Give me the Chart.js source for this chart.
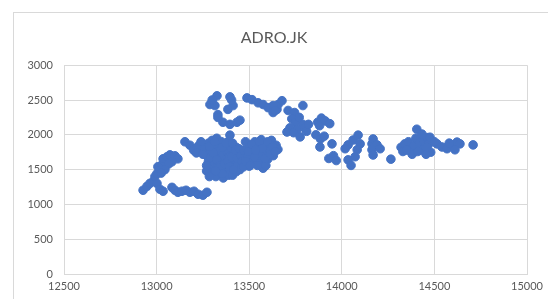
<!DOCTYPE html>
<html>
<head>
<meta charset="utf-8">
<script src="https://cdn.jsdelivr.net/npm/chart.js@4"></script>
<style>
  html, body { margin: 0; padding: 0; background: #fff; }
  #wrap { position: relative; width: 548px; height: 299px; overflow: hidden; }
  #frame { position: absolute; left: 13px; top: 12px; width: 560px; height: 320px; border: 1px solid #d9d9d9; box-sizing: border-box; }
  canvas { position: absolute; left: 0; top: 0; }
</style>
</head>
<body>
<div id="wrap">
  <div id="frame"></div>
  <canvas id="scatterChart" width="548" height="299"></canvas>
</div>
<script>
// --- DATA ---
const chartTitle = 'ADRO.JK';
const xTicks = [12500, 13000, 13500, 14000, 14500, 15000];
const yTicks = [0, 500, 1000, 1500, 2000, 2500, 3000];

// price points (x) and the matching values (y)
const xValues = [
    // lower-left diagonal
    12927, 12948, 12964, 12981, 13002, 13018, 13035, 12991, 13002, 13018, 13007, 13029, 13045, 13035, 13056, 13072, 13099, 13115, 13083, 13065, 13045, 13025,
    // low band
    13083, 13099, 13115, 13137, 13159, 13180, 13202, 13224, 13250, 13272,
    // stray
    13153, 13180,
    // main cluster, left tongue
    13200, 13220, 13240, 13230, 13215,
    // main cluster body
    13260, 13270, 13280, 13280, 13290, 13295, 13300, 13300, 13310, 13310, 13315, 13320, 13320, 13325, 13330, 13335, 13340, 13340, 13345, 13350,
    13350, 13355, 13360, 13360, 13365, 13370, 13375, 13380, 13380, 13385, 13390, 13395, 13400, 13400, 13405, 13410, 13415, 13420, 13425, 13430,
    13440, 13445, 13450, 13300, 13396, 13270, 13285, 13365, 13430,
    13270, 13290, 13305, 13325, 13335, 13345, 13355, 13365, 13375, 13385, 13395, 13405, 13410, 13415, 13425, 13435, 13445, 13455, 13285, 13315,
    13355, 13320, 13250, 13240,
    // main cluster, right part
    13460, 13470, 13480, 13490, 13500, 13500, 13510, 13520, 13530, 13540, 13550, 13560, 13565, 13575, 13580, 13590, 13600, 13610, 13620, 13630,
    13645, 13655, 13470, 13520, 13560, 13590,
    13480, 13495, 13515, 13530, 13545, 13555, 13570, 13585, 13600, 13615, 13625, 13640, 13505, 13535,
    // upper group
    13326, 13396, 13288, 13315, 13413, 13385, 13331, 13331, 13358, 13396, 13434, 13450, 13300, 13405,
    // upper arc
    13488, 13515, 13548, 13575, 13602, 13629, 13650, 13656, 13629, 13677, 13640,
    // cluster near 13750
    13710, 13745, 13790, 13730, 13750, 13770, 13790, 13720, 13760, 13800, 13704, 13740, 13775, 13810, 13820,
    // cluster near 13900
    13870, 13890, 13910, 13935, 13880, 13860, 13885, 13905, 13882, 13947, 13930, 13955, 13970,
    // cluster near 14050
    14034, 14061, 14088, 14099, 14083, 14072, 14034, 14018, 14050,
    // cluster near 14180
    14163, 14169, 14190, 14163, 14169, 14207,
    // single
    14265,
    // cluster near 14400
    14320, 14340, 14330, 14360, 14370, 14380, 14390, 14400, 14405, 14420, 14430, 14440, 14450, 14460, 14470, 14480, 14350, 14410, 14455,
    // cluster near 14600
    14433, 14476, 14460, 14514, 14541, 14568, 14600, 14622, 14638, 14611, 14709, 14500, 14580
];
const yValues = [
    1203, 1259, 1302, 1330, 1302, 1217, 1189, 1401, 1443, 1500, 1542, 1571, 1613, 1655, 1684, 1712, 1698, 1655, 1613, 1580, 1500, 1450,
    1245, 1203, 1174, 1189, 1203, 1174, 1189, 1146, 1132, 1174,
    1900, 1850,
    1780, 1820, 1760, 1850, 1740,
    1800, 1700, 1620, 1880, 1760, 1540, 1660, 1920, 1470, 1820, 1600, 1720, 1400, 1950, 1540, 1860, 1660, 1430, 1780, 1500,
    1900, 1600, 1720, 1380, 1830, 1460, 1650, 1560, 1760, 1900, 1420, 1690, 1500, 1600, 1800, 1420, 1720, 1550, 1640, 1470,
    1580, 1700, 1500, 1850, 1995, 1480, 1400, 1540, 1820,
    1560, 1680, 1740, 1640, 1480, 1560, 1820, 1580, 1880, 1620, 1540, 1680, 1880, 1500, 1780, 1660, 1800, 1700, 1830, 1900,
    1440, 1480, 1720, 1900,
    1620, 1780, 1900, 1680, 1550, 1840, 1750, 1620, 1900, 1700, 1820, 1600, 1930, 1520, 1740, 1860, 1650, 1780, 1920, 1700,
    1850, 1790, 1540, 1850, 1700, 1560,
    1620, 1760, 1860, 1680, 1560, 1900, 1800, 1660, 1900, 1720, 1820, 1760, 1560, 1780,
    2560, 2545, 2435, 2420, 2420, 2365, 2290, 2250, 2180, 2150, 2180, 2210, 2500, 2500,
    2530, 2505, 2460, 2435, 2390, 2320, 2365, 2435, 2420, 2490, 2350,
    2350, 2320, 2420, 2230, 2180, 2250, 2150, 2100, 2080, 2100, 2040, 2030, 1970, 2050, 2150,
    2180, 2240, 2200, 2160, 2130, 2000, 1940, 1980, 1825, 1870, 1660, 1700, 1630,
    1855, 1925, 1995, 1870, 1785, 1685, 1640, 1800, 1560,
    1870, 1940, 1855, 1785, 1710, 1800,
    1650,
    1820, 1870, 1760, 1900, 1800, 1720, 1850, 1950, 2080, 1880, 1780, 1920, 1830, 1960, 1870, 1750, 1780, 1760, 1720,
    2010, 1965, 1825, 1870, 1825, 1800, 1855, 1895, 1870, 1785, 1855, 1900, 1880
];

const points = xValues.map((x, i) => ({ x: x, y: yValues[i] }));

const FONT = 'Lato, "Open Sans", sans-serif';
const GRID = '#d9d9d9';
const TEXT = '#595959';

const ctx = document.getElementById('scatterChart').getContext('2d');
window.scatterChart = new Chart(ctx, {
    type: 'scatter',
    data: {
        datasets: [{
            label: chartTitle,
            data: points,
            backgroundColor: '#4472C4',
            borderColor: '#4472C4',
            borderWidth: 1,
            pointRadius: 4.3,
            pointHoverRadius: 4.3
        }]
    },
    options: {
        responsive: false,
        animation: false,
        layout: { padding: 0 },
        plugins: {
            legend: { display: false },
            tooltip: { enabled: false },
            title: {
                display: true,
                text: chartTitle,
                color: TEXT,
                font: { family: FONT, size: 16, weight: 'normal' },
                padding: { top: 28, bottom: 18 }
            }
        },
        scales: {
            x: {
                type: 'linear',
                min: xTicks[0],
                max: xTicks[xTicks.length - 1],
                afterBuildTicks: (scale) => { scale.ticks = xTicks.map(v => ({ value: v })); },
                afterFit: (scale) => { scale.height = 25; scale.paddingRight = 21; },
                grid: { color: GRID, drawTicks: false },
                border: { color: GRID },
                ticks: { color: TEXT, font: { family: FONT, size: 11 }, padding: 6, maxRotation: 0, callback: (v) => String(v) }
            },
            y: {
                type: 'linear',
                min: yTicks[0],
                max: yTicks[yTicks.length - 1],
                afterBuildTicks: (scale) => { scale.ticks = yTicks.map(v => ({ value: v })); },
                afterFit: (scale) => { scale.width = 64; },
                grid: { color: GRID, drawTicks: false },
                border: { color: GRID },
                ticks: { color: TEXT, font: { family: FONT, size: 11 }, padding: 11, callback: (v) => String(v) }
            }
        }
    }
});
</script>
</body>
</html>
